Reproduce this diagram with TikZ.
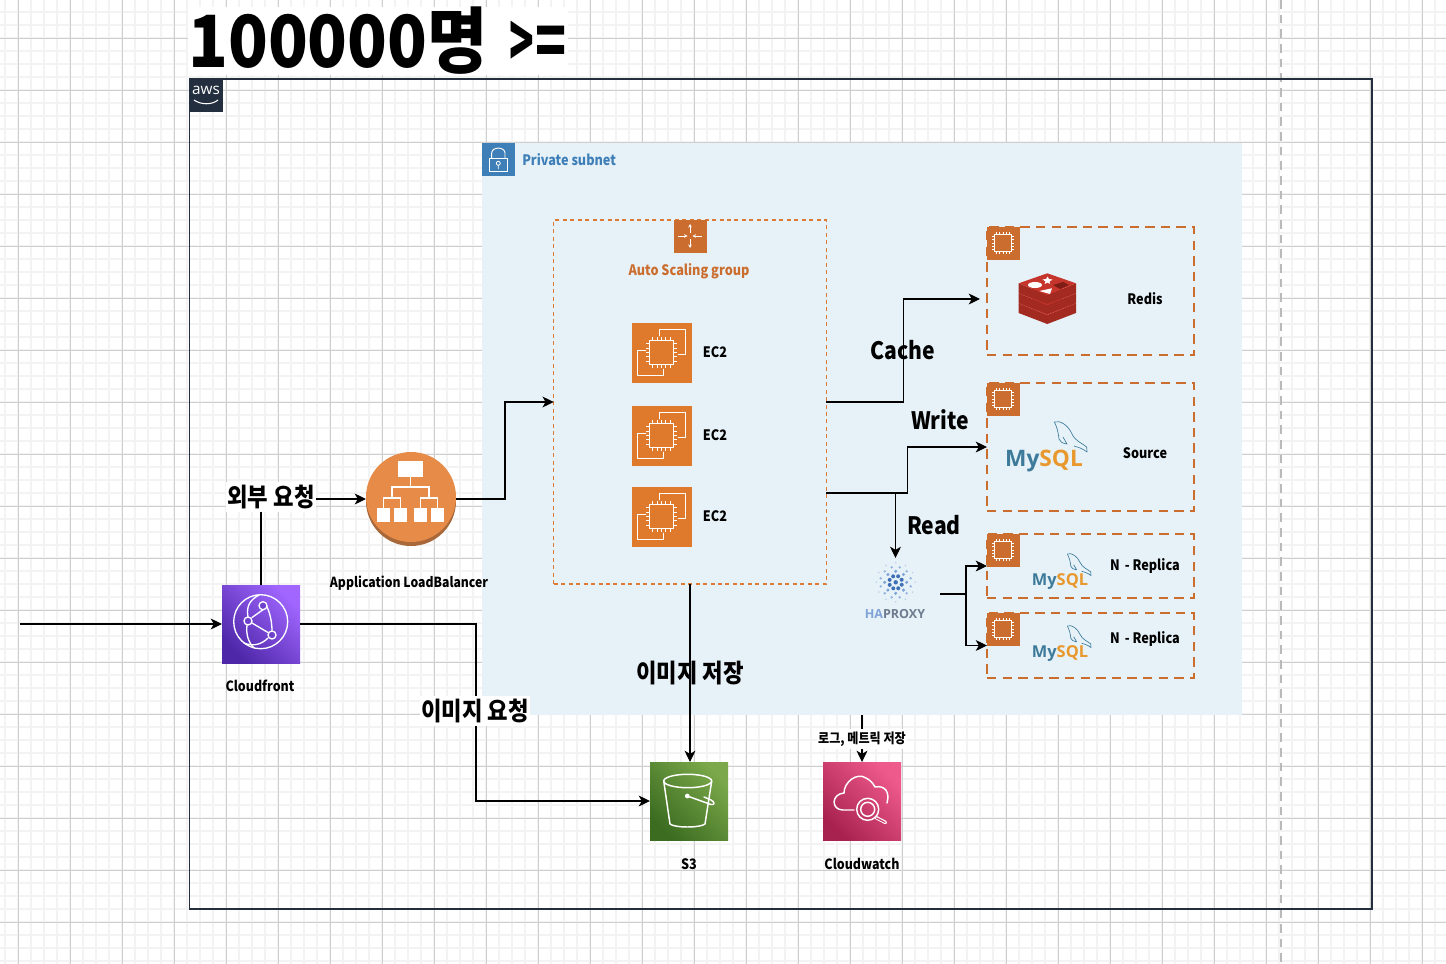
\documentclass[tikz,border=0pt]{standalone}
\usepackage{fontspec}
\usepackage{graphicx}
\setmainfont{Noto Sans CJK KR}
\newfontfamily\lf[FakeStretch=0.88]{Noto Sans CJK KR}
\newfontfamily\tf[FakeStretch=0.91]{Noto Sans CJK KR}
\newfontfamily\oss{Open Sans}
\usetikzlibrary{arrows.meta,calc}
\definecolor{awsdark}{HTML}{232F3E}
\definecolor{subnetbg}{HTML}{E6F2F8}
\definecolor{subnettag}{HTML}{3F7FB8}
\definecolor{asgline}{HTML}{DC7A36}
\definecolor{asgtag}{HTML}{CB6D2E}
\definecolor{ectwo}{HTML}{DF7A2C}
\definecolor{albfront}{HTML}{E68C48}
\definecolor{albback}{HTML}{A9683A}
\definecolor{mysqlblue}{HTML}{3E7B9B}
\definecolor{mysqlorange}{HTML}{E8982C}
\definecolor{gridmajor}{HTML}{CFCFCF}
\definecolor{gridminor}{HTML}{F3F3F3}
\definecolor{redA}{HTML}{C6352B}
\definecolor{redB}{HTML}{A32A20}
\definecolor{redC}{HTML}{7E1D15}
\definecolor{haA}{HTML}{3F6FB5}
\definecolor{haB}{HTML}{7FA3D6}
\definecolor{haC}{HTML}{B9D0EC}
\definecolor{haD}{HTML}{6E7B8F}
\definecolor{cfA}{HTML}{4D27A8}
\definecolor{cfB}{HTML}{A166FF}
\definecolor{sthreeA}{HTML}{3B6C20}
\definecolor{sthreeB}{HTML}{7AA84A}
\definecolor{cwA}{HTML}{A8224F}
\definecolor{cwB}{HTML}{EF5A8C}
\tikzset{
  x=0.75pt,y=-0.75pt,
  sz/.style 2 args={minimum width=#1*0.75pt,minimum height=#2*0.75pt,inner sep=0pt,outer sep=0pt},
  lab/.style={font=\lf\bfseries\fontsize{#1}{#1}\selectfont,text=black,inner sep=0pt},
  wlab/.style={lab=#1,fill=white,inner xsep=1pt,inner ysep=2pt},
  conn/.style={draw=black,line width=0.8pt,-{Stealth[length=8.5pt,width=8.2pt,inset=2.4pt]}},
  plainconn/.style={draw=black,line width=0.8pt},
  dbbox/.style={draw=asgtag,line width=1.9pt,dash pattern=on 7pt off 4.7pt},
  icw/.style={draw=white,line width=1pt,line join=round,line cap=round},
  dolphin/.style={draw=mysqlblue,line width=0.5pt,line join=round,fill=none},
  gradbox/.style n args={2}{shading=axis,left color=#2,right color=#1,shading angle=-45},
  tinytip/.style={white,line width=0.55pt,-{Stealth[length=2.6pt,width=2.6pt]}},
}
\newcommand{\chipicon}[4]{%
  \begin{scope}[shift={(#1,#2)}]
    \foreach \k in {-0.75,-0.375,0,0.375,0.75}{
      \draw[white,line width=0.7pt] (\k*#3,-#3) -- (\k*#3,-#3-#4);
      \draw[white,line width=0.7pt] (\k*#3,#3) -- (\k*#3,#3+#4);
      \draw[white,line width=0.7pt] (-#3,\k*#3) -- (-#3-#4,\k*#3);
      \draw[white,line width=0.7pt] (#3,\k*#3) -- (#3+#4,\k*#3);
    }
    \draw[white,line width=1pt] (-#3,-#3) rectangle (#3,#3);
  \end{scope}}
\newcommand{\ecicon}[2]{%
  \begin{scope}[shift={(#1,#2)}]
    \draw[icw] (-2.3,-16.7) -- (-2.3,-23.3) -- (23.7,-23.3) -- (23.7,2.3) -- (17,2.3);
    \draw[icw] (-15.7,-2) -- (-24,-2) -- (-24,23.3) -- (2,23.3) -- (2,16.7);
  \end{scope}}
\newcommand{\mysqllogo}[4]{%
  \node[inner sep=0pt,text=mysqlblue,font=\oss\bfseries\fontsize{#4}{#4}\selectfont] at (#1,#2) {My\textcolor{mysqlorange}{SQL}};
  \begin{scope}[shift={(#1,#2)},scale=#3]
    \draw[dolphin] (10.3,-39) .. controls (16,-41) and (24,-36) .. (28,-27)
      .. controls (31,-20) and (38,-18) .. (42.7,-14) -- (43,-9)
      .. controls (38,-13) and (33,-14) .. (30,-15);
    \draw[dolphin] (10.3,-39) .. controls (13,-34) and (14,-30) .. (15,-22)
      .. controls (16,-19) and (18,-18) .. (23,-17) -- (19,-24);
  \end{scope}}
\begin{document}
\begin{tikzpicture}
\useasboundingbox (0,0) rectangle (1446,964);
\fill[white] (0,0) rectangle (1446,964);
% grid
\foreach \gx in {5,18,...,1446}{\draw[gridminor,line width=1.2pt] (\gx,0) -- (\gx,964);}
\foreach \gy in {12,25,...,964}{\draw[gridminor,line width=1.2pt] (0,\gy) -- (1446,\gy);}
\foreach \gx in {18,70,...,1446}{\draw[gridmajor,line width=0.7pt] (\gx,0) -- (\gx,964);}
\foreach \gy in {38,90,...,964}{\draw[gridmajor,line width=0.7pt] (0,\gy) -- (1446,\gy);}
\draw[draw=black!27,line width=1.5pt,dash pattern=on 6.5pt off 4.5pt] (1281,0) -- (1281,964);
% title
\node[fill=white,inner sep=0pt,minimum height=45pt,text width=285pt,anchor=west,font=\tf\bfseries\fontsize{54pt}{54pt}\selectfont,text=black] (title) at (188,41) {100000명\kern16pt\scalebox{.62}[1]{>}\kern1pt\scalebox{.78}[1]{=}};
% aws group
\node[sz={1182.5}{830},draw=awsdark,line width=1pt] (awsgroup) at (780.75,494) {};
\node[sz={33}{33},fill=awsdark] (awstag) at (206,95) {};
\node[inner sep=0pt,text=white,font=\oss\fontsize{11.5pt}{11.5pt}\selectfont] (awstext) at (206,90.5) {aws};
\draw[white,line width=0.8pt] (194,100) .. controls (201,105) and (212,105) .. (218,100);
% subnet
\node[sz={760}{572},fill=subnetbg] (subnet) at (862,429) {};
\node[sz={33}{33},fill=subnettag] (subnettagbox) at (498.5,159.5) {};
\draw[white,line width=0.7pt] (489.3,158.3) rectangle (507.3,171.7);
\draw[white,line width=0.7pt] (491.7,158.3) -- (491.7,153) .. controls (491.7,146.5) and (505,146.5) .. (505,153) -- (505,158.3);
\draw[white,line width=0.6pt] (498.3,163.3) circle (2) (498.3,165.3) -- (498.3,169);
\node[lab=10.8pt,text=subnettag,anchor=west] (subnetlabel) at (522,160) {Private subnet};
% auto scaling group
\node[sz={272.5}{364},draw=asgline,line width=0.9pt,dash pattern=on 3pt off 2.6pt] (asg) at (690,402) {};
\node[sz={33}{33},fill=asgtag] (asgicon) at (690,236) {};
\begin{scope}[shift={(690,236)}]
  \draw[tinytip] (0,-3) -- (0,-12);
  \draw[tinytip] (0,3) -- (0,12);
  \draw[tinytip] (-12,0) -- (-2.5,0);
  \draw[tinytip] (12,0) -- (2.5,0);
\end{scope}
\node[lab=10.8pt,text=asgtag] (asglabel) at (689,271) {Auto Scaling group};
% EC2
\foreach \nm/\yy in {ecA/352.5,ecB/435.5,ecC/516.5}{
  \node[sz={60}{60},fill=ectwo] (\nm) at (661.5,\yy) {};
  \chipicon{661.5}{\yy}{11.7}{3.5}
  \ecicon{661.5}{\yy}
}
\node[lab=10.8pt] (ecAl) at (715,352) {EC2};
\node[lab=10.8pt] (ecBl) at (715,435) {EC2};
\node[lab=10.8pt] (ecCl) at (715,516) {EC2};
% DB boxes
\node[sz={207}{128},dbbox] (redisbox) at (1090.5,291) {};
\node[sz={207}{128},dbbox] (srcbox) at (1090.5,447) {};
\node[sz={207}{64},dbbox] (repA) at (1090.5,566) {};
\node[sz={207}{65},dbbox] (repB) at (1090.5,645.5) {};
\foreach \nm/\cx/\cy in {tagA/1003/243,tagB/1003/399,tagC/1003/550,tagD/1003/629}{
  \node[sz={33}{33},fill=asgtag] (\nm) at (\cx,\cy) {};
  \chipicon{\cx}{\cy}{8.7}{2.2}
}
% redis logo
\foreach \dy in {20,10}{
  \begin{scope}[yshift=-\dy*0.75pt]
    \fill[redB] (1018.7,283.3) -- (1047.3,295) -- (1076,283.3) -- (1076,293) -- (1047.3,304) -- (1018.7,293) -- cycle;
    \fill[redA] (1018.7,283.3) -- (1047.3,273.3) -- (1076,283.3) -- (1047.3,295) -- cycle;
  \end{scope}
}
\fill[redB] (1018.7,283.3) -- (1047.3,295) -- (1076,283.3) -- (1076,293) -- (1047.3,304) -- (1018.7,293) -- cycle;
\fill[redA] (1018.7,283.3) -- (1047.3,273.3) -- (1076,283.3) -- (1047.3,295) -- cycle;
\fill[white] (1035,285) ellipse (7 and 3);
\fill[white] (1047.7,276.5) -- (1049,279) -- (1052.5,279.5) -- (1049.5,281.5) -- (1050,284) -- (1047.5,282.5) -- (1044.5,284) -- (1045.5,281.5) -- (1042.5,279.5) -- (1046,279) -- cycle;
\fill[white] (1039.3,291) -- (1052,288.3) -- (1050,294) -- cycle;
\fill[redC] (1053,285) -- (1063,282) -- (1069,285) -- (1060,289) -- cycle;
\node[lab=10.8pt] (redislabel) at (1145,299) {Redis};
% mysql
\mysqllogo{1044}{461}{1}{17pt}
\mysqllogo{1060}{582}{0.72}{12.3pt}
\mysqllogo{1060}{654}{0.72}{12.3pt}
\node[lab=10.8pt] (srclabel) at (1145,453) {Source};
\node[lab=10.8pt] (repAl) at (1145,566) {N\kern1.5pt{} - Replica};
\node[lab=10.8pt] (repBl) at (1145,639) {N\kern1.5pt{} - Replica};
% haproxy
\node[sz={89}{72}] (haproxy) at (895.5,594) {};
\begin{scope}[shift={(895.7,582.3)}]
  \foreach \a in {0,30,...,330}{\fill[haC] (\a:19.5) circle (0.9);}
  \foreach \a in {15,45,...,345}{\fill[haB!70!haC] (\a:15.5) circle (1.3);}
  \foreach \a in {0,45,...,315}{\fill[haB] (\a:11) circle (1.7);}
  \foreach \a in {22,67,...,337}{\fill[haA] (\a:6.5) circle (2);}
  \fill[haA] (0,0) circle (2.2);
\end{scope}
\node[inner sep=0pt,font=\oss\bfseries\fontsize{9.4pt}{9.4pt}\selectfont,text=haD] (halabel) at (895,614) {\textcolor{haB}{HA}PROXY};
% application load balancer
\node[sz={90}{94}] (alb) at (411,499) {};
\fill[albback] (411,501) circle (45);
\fill[albfront] (411,497) circle (45);
\fill[white] (398,461) rectangle (423,477);
\draw[white,line width=0.8pt] (410.5,477) -- (410.5,487) (392,498) -- (392,487) -- (429,487) -- (429,498) (383.5,508) -- (383.5,498) -- (400.5,498) -- (400.5,508) (420.5,508) -- (420.5,498) -- (437.5,498) -- (437.5,508);
\fill[white] (377,508) rectangle (390,522);
\fill[white] (394,508) rectangle (407,522);
\fill[white] (414,508) rectangle (427,522);
\fill[white] (431,508) rectangle (444,522);
\node[lab=10.4pt] (alblabel) at (409,583) {Application LoadBalancer};
% cloudfront
\node[sz={78}{78},gradbox={cfA}{cfB}] (cf) at (261,624) {};
\draw[icw] (260.7,621.7) circle (27);
\draw[icw] (263,609.7) -- (252,617.5);
\draw[icw] (252,623) -- (268,632.5);
\draw[icw] (248,617) .. controls (246,606) and (250,600) .. (259,595);
\draw[icw] (247,625) .. controls (246,634) and (248,642) .. (254,648);
\draw[icw] (266,605) .. controls (270,612) and (272,622) .. (272,631);
\draw[icw] (268,638) .. controls (262,644) and (254,647) .. (244,643);
\draw[icw,fill=cfA!60!cfB] (263,605.7) circle (4);
\draw[icw,fill=cfA!60!cfB] (248,621) circle (4);
\draw[icw,fill=cfA!60!cfB] (272,635) circle (4);
\node[lab=10.6pt] (cflabel) at (260,686) {Cloudfront};
% s3
\node[sz={78}{78},gradbox={sthreeA}{sthreeB}] (s3) at (689,801) {};
\draw[icw,line width=1.1pt] (687.7,781) ellipse (24 and 6.7);
\draw[icw,line width=1.1pt] (663.7,781) -- (670,824) .. controls (675,828) and (700,828) .. (705,824) -- (711.7,781);
\fill[white] (687.3,796) circle (2.4);
\draw[icw,line width=1.1pt] (687.3,796) -- (711,804.5) .. controls (715,805.5) and (715,802) .. (711,800) -- (704,797);
\node[lab=10.8pt] (s3label) at (689,864) {S3};
% cloudwatch
\node[sz={78}{78},gradbox={cwA}{cwB}] (cw) at (862,801) {};
\draw[icw,line width=1.1pt] (854,810) -- (843,810) .. controls (831,810) and (831,794) .. (844,793)
  .. controls (844,782) and (857,772) .. (866,778) .. controls (870,780) and (873,783) .. (875,787)
  .. controls (885,785) and (890,792) .. (887,803);
\draw[icw,line width=1.1pt] (867.7,809.3) circle (11);
\draw[icw,line width=1.1pt] (867.7,809.3) circle (7);
\draw[icw,line width=2.6pt] (876,817.5) -- (885.5,822.5);
\draw[line width=0.9pt,draw=cwA!55!cwB,line cap=round] (876.5,818) -- (885,822.3);
\node[lab=10.6pt] (cwlabel) at (862,864) {Cloudwatch};
% connectors
\coordinate (entry) at (20,624);
\coordinate (redisin) at (980,299);
\coordinate (asgredis) at (asg.east);
\coordinate (asgdb) at (826.25,493);
\draw[conn] (entry) -- (cf.west);
\draw[conn] (cf.north) |- (alb.west);
\draw[conn] (alb.east) -- ++(49,0) |- (asg.west);
\draw[conn] (asgredis) -- ++(77,0) |- (redisin);
\draw[conn] (asgdb) -- ++(81,0) |- (srcbox.west);
\draw[conn] (asgdb -| haproxy.north) -- (haproxy.north);
\draw[plainconn] (haproxy.east) -- ++(26,0) coordinate (hasplit);
\draw[conn] (hasplit) |- (repA.west);
\draw[conn] (hasplit) |- (repB.west);
\draw[conn] (asg.south) -- (asg.south |- s3.north);
\draw[conn] (cf.east) -- ++(176,0) |- (s3.west);
\draw[conn] (cw.north |- subnet.south) -- (cw.north);
% connector labels
\node[wlab=19pt] (extlabel) at (271,497) {외부 요청};
\node[lab=18pt] (cachelabel) at (903,350) {Cache};
\node[lab=18pt] (writelabel) at (940,420) {Write};
\node[lab=18pt] (readlabel) at (934,525) {Read};
\node[lab=19pt] (savelabel) at (690,673) {이미지 저장};
\node[wlab=19pt] (reqlabel) at (475,711) {이미지 요청};
\node[wlab=10.3pt] (loglabel) at (862,739) {로그, 메트릭 저장};
\end{tikzpicture}
\end{document}
